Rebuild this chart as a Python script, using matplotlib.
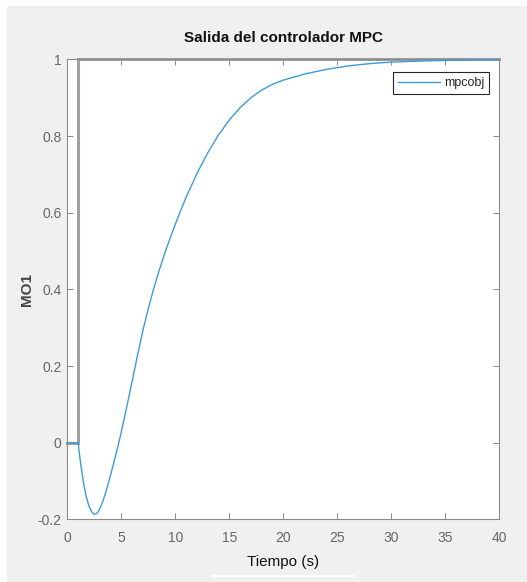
import matplotlib
matplotlib.use("Agg")
import matplotlib.pyplot as plt
from matplotlib.patches import Rectangle

plt.rcParams['font.family'] = ['Liberation Sans', 'DejaVu Sans']

# Reference (setpoint) step
ref_t = [0, 1, 1, 40]
ref_y = [0, 0, 1, 1]

# Controller output MO1 (mpcobj)
t = [0, 1.0, 1.25, 1.5, 1.75, 2.0, 2.25, 2.5, 2.75, 3.0, 3.25, 3.5, 3.75,
     4.0, 4.25, 4.5, 4.75, 5.0, 5.5, 6.0, 6.5, 7.0, 7.5, 8.0, 8.5, 9.0,
     9.5, 10.0, 10.5, 11.0, 12.0, 13.0, 14.0, 15.0, 16.0, 17.0, 18.0,
     19.0, 20.0, 22.0, 24.0, 26.0, 28.0, 30.0, 33.0, 36.0, 40.0]
y = [0, 0.0, -0.058, -0.104, -0.140, -0.165, -0.180, -0.187, -0.184,
     -0.173, -0.156, -0.135, -0.111, -0.085, -0.058, -0.030, -0.002,
     0.028, 0.093, 0.160, 0.228, 0.293, 0.350, 0.402, 0.449, 0.492,
     0.532, 0.570, 0.606, 0.640, 0.702, 0.756, 0.803, 0.842, 0.874,
     0.900, 0.920, 0.935, 0.946, 0.962, 0.974, 0.983, 0.989, 0.993,
     0.996, 0.998, 0.999]

xticks = [0, 5, 10, 15, 20, 25, 30, 35, 40]
yticks = [-0.2, 0, 0.2, 0.4, 0.6, 0.8, 1.0]
yticklabels = ['-0.2', '0', '0.2', '0.4', '0.6', '0.8', '1']

W, H = 527, 582
fig = plt.figure(figsize=(W / 100, H / 100), dpi=100)
fig.patch.set_facecolor('white')
fig.patches.append(Rectangle((7 / W, 0), 1 - 7 / W, 1 - 6 / H,
                             transform=fig.transFigure, facecolor='#f0f0f0',
                             edgecolor='none', zorder=-10))
fig.patches.append(Rectangle((211 / W, 1 - 577 / H), 144 / W, 2 / H,
                             transform=fig.transFigure, facecolor='white',
                             edgecolor='none', zorder=-9))

ax = fig.add_axes([67.3 / W, 1 - 519.4 / H, 432 / W, 460 / H])
ax.set_facecolor('white')

ax.plot(ref_t, ref_y, color='#a0a0a0', lw=2.2, clip_on=False, zorder=2,
        solid_joinstyle='miter')
line, = ax.plot(t, y, color='#3d9ad9', lw=1.0, zorder=3, label='mpcobj')

ax.set_xlim(0, 40)
ax.set_ylim(-0.2, 1)
ax.set_xticks(xticks)
ax.set_yticks(yticks)
ax.set_yticklabels(yticklabels)

spine_c = '#8a8a8a'
for s in ax.spines.values():
    s.set_color(spine_c)
    s.set_linewidth(0.8)
ax.tick_params(direction='in', length=4, width=0.7, color=spine_c,
               top=True, right=True, labelsize=10, labelcolor='#666666')
ax.tick_params(axis='x', pad=8)
ax.tick_params(axis='y', pad=4)

fig.text(283 / W, 1 - 42 / H, 'Salida del controlador MPC', ha='center',
         va='baseline', fontsize=11, fontweight='bold', color='#111111')
fig.text(283 / W, 1 - 566 / H, 'Tiempo (s)', ha='center', va='baseline',
         fontsize=11, color='#111111')
fig.text(26.5 / W, 1 - 290 / H, 'MO1', ha='center', va='center', rotation=90,
         fontsize=11, fontweight='bold', color='#444444')

leg = ax.legend(handles=[line], loc='upper right',
                bbox_to_anchor=(489 / W, 1 - 72 / H),
                bbox_transform=fig.transFigure, borderaxespad=0,
                fontsize=9, handlelength=3.4, handletextpad=0.3,
                borderpad=0.4, fancybox=False, framealpha=1)
leg.get_frame().set_edgecolor('#262626')
leg.get_frame().set_linewidth(0.8)
for txt in leg.get_texts():
    txt.set_color('#262626')

fig.savefig('out.png', dpi=100, facecolor=fig.get_facecolor())
